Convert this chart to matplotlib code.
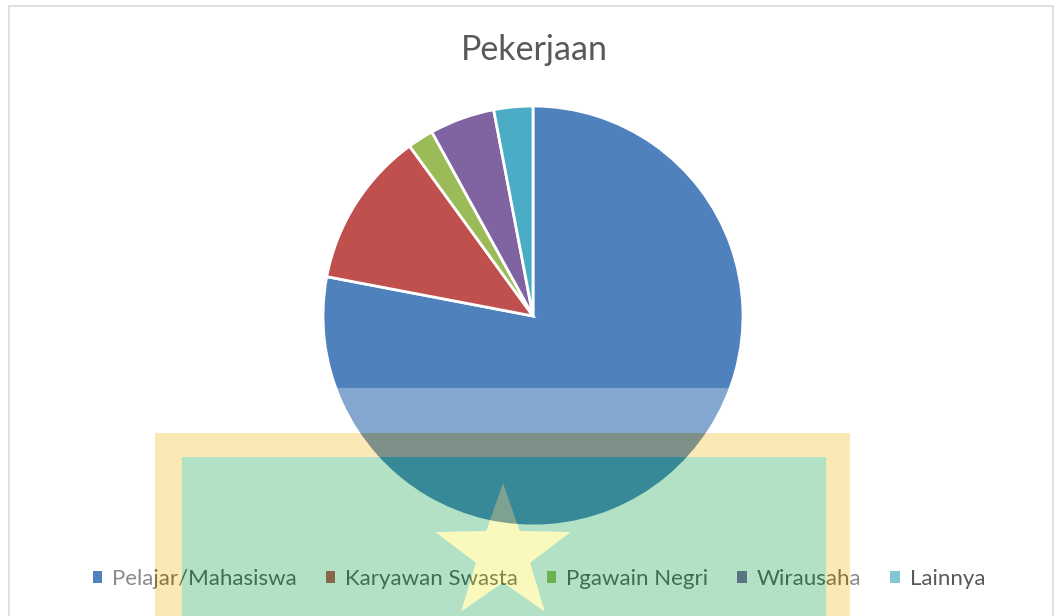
import matplotlib
matplotlib.use("Agg")
import matplotlib.pyplot as plt
from matplotlib.patches import Patch, Rectangle, PathPatch
from matplotlib.path import Path
import numpy as np

# ---- data ----
title = "Pekerjaan"
categories = ["Pelajar/Mahasiswa", "Karyawan Swasta", "Pgawain Negri", "Wirausaha", "Lainnya"]
values = [78, 12, 2, 5, 3]
colors = ["#4F81BD", "#C0504D", "#9BBB59", "#8064A2", "#4BACC6"]

W, H = 1054, 616
plt.rcParams['font.family'] = ['Lato', 'DejaVu Sans']
fig = plt.figure(figsize=(W / 100, H / 100), dpi=100)
fig.patch.set_facecolor("white")

def fx(px):
    return px / W

def fy(py):
    return 1 - py / H

# chart border
fig.add_artist(Rectangle((fx(8.5), fy(640)), fx(1053 - 8.5), (640 - 6.5) / H,
                         transform=fig.transFigure, fill=False,
                         edgecolor="#D9D9D9", linewidth=1.2))

# pie
cx, cy, r = 533, 316, 210
ax = fig.add_axes([fx(cx - r), fy(cy + r), 2 * r / W, 2 * r / H])
ax.pie(values, colors=colors, startangle=90, counterclock=False, radius=1,
       wedgeprops=dict(edgecolor="white", linewidth=2.0))
ax.set_xlim(-1, 1)
ax.set_ylim(-1, 1)
ax.set_aspect("equal")
ax.axis("off")

fig.text(fx(534), fy(50), title, ha="center", va="center",
         fontsize=24.5, color="#595959")

handles = [Patch(facecolor=c, edgecolor="none") for c in colors]
fig.legend(handles, categories, loc="center", bbox_to_anchor=(fx(539), fy(579)),
           ncol=5, frameon=False, fontsize=16, labelcolor="#595959",
           handlelength=0.42, handleheight=0.42, handletextpad=0.45,
           columnspacing=1.3)

# ---- scanned-document watermark overlay (decoration) ----
def rect_verts(x0, y0, x1, y1, ccw=True):
    pts = [(x0, y0), (x1, y0), (x1, y1), (x0, y1)]
    if not ccw:
        pts = pts[::-1]
    return [(fx(a), fy(b)) for a, b in pts]

def star_verts(scx, scy, R, rin, ccw=True):
    pts = []
    for k in range(10):
        ang = np.pi / 2 + k * np.pi / 5
        rr = R if k % 2 == 0 else rin
        pts.append((scx + rr * np.cos(ang), scy - rr * np.sin(ang)))
    if not ccw:
        pts = pts[::-1]
    return [(fx(a), fy(b)) for a, b in pts]

def compound(*polys):
    verts, codes = [], []
    for p in polys:
        verts += p + [p[0]]
        codes += [Path.MOVETO] + [Path.LINETO] * (len(p) - 1) + [Path.CLOSEPOLY]
    return Path(verts, codes)

outer = (155, 433, 850, 700)
inner = (182, 457, 826, 700)
glow = (105, 388, 900, 700)
sx, sy, sR = 503, 554, 71

def add(path, color, alpha):
    fig.add_artist(PathPatch(path, transform=fig.transFigure, facecolor=color,
                             edgecolor="none", alpha=alpha, zorder=10))

add(compound(rect_verts(*glow), rect_verts(*outer, ccw=False)), "white", 0.3)
add(compound(rect_verts(*outer), rect_verts(*inner, ccw=False)), (241/255, 182/255, 18/255), 0.3)
add(compound(rect_verts(*inner), star_verts(sx, sy, sR, sR * 0.40, ccw=True)), (2/255, 158/255, 65/255), 0.3)
add(compound(star_verts(sx, sy, sR, sR * 0.40)), (238/255, 238/255, 40/255), 0.3)

fig.savefig("out.png", dpi=100, facecolor="white")
